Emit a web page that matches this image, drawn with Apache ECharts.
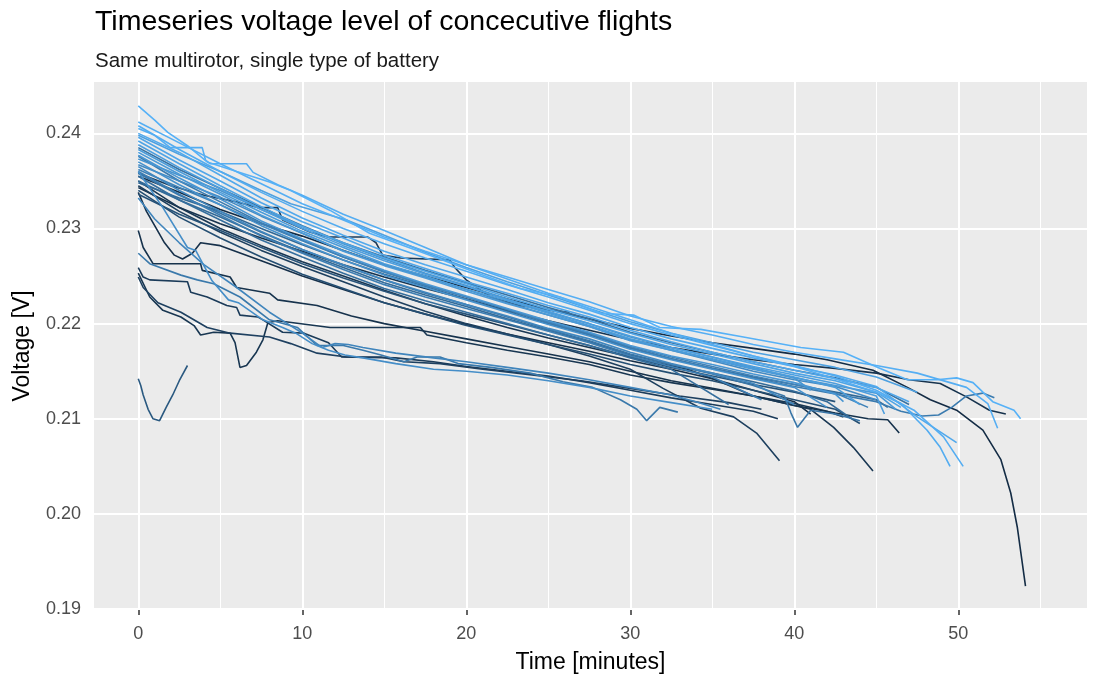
<!DOCTYPE html>
<html>
<head>
<meta charset="utf-8">
<script src="https://cdn.jsdelivr.net/npm/echarts@6/dist/echarts.min.js"></script>
<style>
html,body{margin:0;padding:0;background:#fff;}
#chart{width:1094px;height:675px;}
</style>
</head>
<body>
<div id="chart"></div>
<script>
// ---------- DATA ----------
const titleText = 'Timeseries voltage level of concecutive flights';
const subtitleText = 'Same multirotor, single type of battery';
const xAxisTitle = 'Time [minutes]';
const yAxisTitle = 'Voltage [V]';
const xTicks = [0, 10, 20, 30, 40, 50];
const yTicks = [0.19, 0.20, 0.21, 0.22, 0.23, 0.24];
const xMinorTicks = [5, 15, 25, 35, 45, 55];
const yMinorTicks = [0.195, 0.205, 0.215, 0.225, 0.235, 0.245];

// each flight: [time (min), voltage (V)]
const fD1 = [[0,0.2355],[2.5,0.2338],[5,0.2320],[7.5,0.2305],[10,0.2292],[12.5,0.2277],[15,0.2262],[17.5,0.2250],[20,0.2238],[22.5,0.2226],[25,0.2215],[27.5,0.2205],[30,0.2195],[32.5,0.2187],[35,0.2180],[37.5,0.2174],[40,0.2168],[42,0.2162],[44.8,0.2151],[46.9,0.2133],[48.3,0.2120],[49.9,0.2109],[51.5,0.2088],[52.6,0.2057],[53.2,0.2022],[53.6,0.1986],[54.1,0.1924]];
const fLG7 = [[0,0.2338],[0.5,0.2318],[1,0.2303],[1.6,0.2285],[2.2,0.2272],[2.7,0.2268],[3.3,0.2274],[3.8,0.2285],[5,0.2282],[7.5,0.2266],[10,0.2250],[12.5,0.2236],[15,0.2222],[17.5,0.2210],[20,0.2199],[22.5,0.2189],[25,0.2180],[27.5,0.2171],[30,0.2161],[32.5,0.2152],[35,0.2142],[37.5,0.2130],[40,0.2118],[41,0.2105]];
const fLG2 = [[0,0.2298],[0.3,0.2280],[0.9,0.2263],[3.8,0.2263],[3.9,0.2256],[5.6,0.2249],[6,0.2238],[8,0.2232],[8.5,0.2225],[10.9,0.2219],[13,0.2208],[15,0.2200],[17.5,0.2192],[20,0.2184],[22.5,0.2176],[25,0.2168],[27.5,0.2160],[30,0.2150],[32.5,0.2140],[35,0.2132],[37.5,0.2124],[40,0.2114],[42.5,0.2106],[44.5,0.2100],[45.7,0.2099],[46.4,0.2085]];
const fD2 = [[0,0.2343],[2.5,0.2322],[5,0.2305],[7.5,0.2290],[10,0.2276],[12.5,0.2262],[15,0.2249],[17.5,0.2237],[20,0.2226],[22.5,0.2214],[25,0.2203],[27.5,0.2193],[30,0.2183],[32.5,0.2175],[35,0.2168],[37.5,0.2162],[40,0.2157],[42.5,0.2153],[45,0.2148],[47,0.2141],[48.9,0.2137],[50.5,0.2123],[51.9,0.2109],[52.9,0.2105]];
const fLG4 = [[0,0.2253],[0.7,0.2228],[1.5,0.2214],[2.6,0.2207],[3.4,0.2198],[3.8,0.2188],[4.6,0.2191],[5.6,0.2190],[5.9,0.2180],[6.2,0.2154],[6.6,0.2156],[7.2,0.2170],[7.6,0.2183],[7.9,0.2201],[8.5,0.2203],[11.7,0.2196],[14.8,0.2196],[17.2,0.2196],[17.6,0.2188],[20,0.2180],[22.5,0.2172],[25,0.2165],[27.5,0.2157],[30,0.2146],[32.5,0.2138],[35,0.2131],[37.5,0.2124],[40,0.2116],[42,0.2108],[43,0.2102]];
const fD3 = [[0,0.2350],[2.5,0.2322],[5,0.2300],[7.5,0.2282],[10,0.2265],[12.5,0.2250],[15,0.2235],[17.5,0.2221],[20,0.2208],[22.5,0.2196],[25,0.2185],[27.5,0.2175],[30,0.2165],[33.5,0.2152],[35.5,0.2139],[37.5,0.2124],[39,0.2118],[41,0.2110],[42.4,0.2091],[43.6,0.2070],[44.8,0.2045]];
const fLG3 = [[0,0.2259],[0.3,0.2249],[0.7,0.2246],[3,0.2244],[3.2,0.2233],[4.2,0.2228],[5.4,0.2219],[6,0.2217],[6.2,0.2209],[7.3,0.2207],[7.6,0.2204],[8.8,0.2191],[10.1,0.2190],[11.6,0.2180],[12.4,0.2165],[15.7,0.2164],[18,0.2160],[20,0.2155],[22.5,0.2150],[25,0.2145],[27.5,0.2138],[30,0.2130],[32.5,0.2122],[35,0.2115],[37.5,0.2108],[39,0.2100]];
const fD5 = [[0,0.2358],[2,0.2345],[4,0.2335],[6,0.2328],[7.3,0.2322],[8.5,0.2322],[8.8,0.2309],[10.5,0.2296],[11.6,0.2291],[14,0.2291],[14.5,0.2285],[14.9,0.2272],[16,0.2269],[19,0.2267],[19.3,0.2259],[20,0.2246],[20.9,0.2235],[21.5,0.2228],[23,0.2220],[25.1,0.2214],[26.3,0.2212]];
const fLG5 = [[0,0.2249],[0.3,0.2238],[1.2,0.2222],[2.6,0.2212],[4.2,0.2196],[5.6,0.2190],[8,0.2186],[9.3,0.2179],[10.9,0.2169],[12.7,0.2165],[14.8,0.2165],[16.2,0.2160],[18.4,0.2158],[21,0.2152],[24,0.2146],[27,0.2140],[30,0.2132],[33,0.2124],[36,0.2117],[38,0.2110]];
const fD4 = [[0,0.2345],[2.5,0.2318],[5,0.2296],[7.5,0.2277],[10,0.2260],[12.5,0.2244],[15,0.2228],[17.5,0.2213],[20,0.2200],[22.5,0.2189],[25,0.2178],[27.5,0.2166],[30,0.2152],[32,0.2132],[34.3,0.2111],[36.3,0.2102],[37.7,0.2085],[39.1,0.2056]];
const fD6 = [[0,0.2340],[2.5,0.2312],[5,0.2290],[7.5,0.2270],[10,0.2252],[12.5,0.2237],[15,0.2222],[17.5,0.2210],[20,0.2198],[22.5,0.2188],[25,0.2178],[27.5,0.2168],[30,0.2157],[32.5,0.2148],[35,0.2140],[37.5,0.2130],[40,0.2120],[42.5,0.2110],[44,0.2095]];
const fD7 = [[0,0.2336],[2.5,0.2315],[5,0.2298],[7.5,0.2280],[10,0.2263],[12.5,0.2248],[15,0.2234],[17.5,0.2221],[20,0.2210],[22.5,0.2199],[25,0.2188],[27.5,0.2177],[30,0.2165],[32.5,0.2154],[35,0.2145],[37.5,0.2136],[40,0.2128],[42.5,0.2118]];
const fLG1 = [[0,0.2142],[0.15,0.2135],[0.3,0.2125],[0.6,0.2110],[0.9,0.2100],[1.3,0.2098],[1.7,0.2112],[2.1,0.2125],[2.5,0.2140],[3.0,0.2156]];
const fB24 = [[0,0.2348],[2.5,0.2332],[5,0.2318],[7.5,0.2300],[10,0.2283],[12.5,0.2267],[15,0.2252],[17.5,0.2239],[20,0.2226],[22.5,0.2213],[25,0.2200],[27.5,0.2188],[30,0.2174],[32.5,0.2163],[35,0.2153],[37.5,0.2144],[40,0.2136],[42.5,0.2128],[45,0.2120],[45.7,0.2112]];
const fB23 = [[0,0.2350],[2.5,0.2330],[5,0.2312],[7.5,0.2293],[10,0.2275],[12.5,0.2259],[15,0.2243],[17.5,0.2230],[20,0.2218],[22.5,0.2205],[25,0.2193],[27.5,0.2181],[30,0.2167],[32.5,0.2157],[35,0.2148],[37.5,0.2139],[40,0.2129],[42,0.2118],[43.5,0.2100]];
const fB22 = [[0,0.2355],[2.5,0.2330],[5,0.2309],[7.5,0.2288],[10,0.2270],[12.5,0.2253],[15,0.2237],[17.5,0.2224],[20,0.2212],[22.5,0.2200],[25,0.2188],[27.5,0.2177],[30,0.2164],[32.5,0.2152],[36,0.2115]];
const fB21 = [[0,0.2385],[2.5,0.2362],[5,0.2342],[7.5,0.2322],[10,0.2303],[12.5,0.2285],[15,0.2270],[17.5,0.2256],[20,0.2243],[22.5,0.2230],[25,0.2217],[27.5,0.2205],[30,0.2191],[32.5,0.2180],[35,0.2170],[37.5,0.2160],[40,0.2151],[42.5,0.2143],[45,0.2133],[47,0.2115]];
const fB20 = [[0,0.2358],[2.5,0.2335],[5,0.2316],[7.5,0.2296],[10,0.2278],[12.5,0.2261],[15,0.2246],[17.5,0.2232],[20,0.2220],[22.5,0.2207],[25,0.2194],[27.5,0.2182],[30,0.2168],[32.5,0.2157],[35,0.2147],[37.5,0.2135],[39.4,0.2124],[39.8,0.2106],[40.2,0.2091],[41,0.2109],[42.5,0.2105],[44,0.2098]];
const fLG6 = [[0,0.2274],[0.7,0.2263],[2.6,0.2251],[3.6,0.2246],[4.6,0.2242],[6.2,0.2228],[8,0.2204],[9.7,0.2196],[10.9,0.2177],[12.5,0.2177],[13.7,0.2172],[14.8,0.2167],[16.2,0.2160],[17,0.2165],[18.4,0.2165],[19.5,0.2158],[21.5,0.2154],[23.9,0.2148],[25.9,0.2139],[27.7,0.2133],[29.4,0.2120],[30.4,0.2110],[31,0.2098],[31.8,0.2112],[32.9,0.2107]];
const fB19 = [[0,0.2376],[2.5,0.2350],[5,0.2328],[7.5,0.2306],[10,0.2288],[12.5,0.2270],[15,0.2255],[17.5,0.2241],[20,0.2228],[22.5,0.2215],[25,0.2201],[27.5,0.2189],[30,0.2175],[32.5,0.2163],[35,0.2153],[37.5,0.2143],[40,0.2134],[42.5,0.2126],[45,0.2118],[46.5,0.2108],[47.8,0.2103],[48.8,0.2104],[49.6,0.2112],[50.5,0.2124],[51.5,0.2127],[52.2,0.2122]];
const fB18 = [[0,0.2360],[2.5,0.2336],[5,0.2314],[7.5,0.2292],[10,0.2274],[12.5,0.2257],[15,0.2241],[17.5,0.2228],[20,0.2216],[22.5,0.2204],[25,0.2192],[27.5,0.2180],[30,0.2166],[32.5,0.2155],[35,0.2144],[38,0.2120]];
const fB17 = [[0,0.2362],[2.5,0.2343],[5,0.2325],[7.5,0.2305],[10,0.2287],[12.5,0.2270],[15,0.2254],[17.5,0.2240],[20,0.2228],[22.5,0.2215],[25,0.2202],[27.5,0.2190],[30,0.2176],[32.5,0.2165],[35,0.2155],[37.5,0.2145],[40,0.2136],[42.5,0.2127],[44.5,0.2112]];
const fLG9 = [[0,0.2332],[1,0.2310],[2.5,0.2285],[4,0.2262],[6,0.2238],[8,0.2212],[10,0.2190],[11.2,0.2175],[12,0.2179],[12.8,0.2178],[13.7,0.2175],[15.7,0.2169],[18,0.2164],[20,0.2160],[22.5,0.2154],[25,0.2148],[27.5,0.2141],[30,0.2133],[32.5,0.2125],[34,0.2118],[35.5,0.2110]];
const fB16 = [[0,0.2365],[2.5,0.2340],[5,0.2318],[7.5,0.2297],[10,0.2278],[12.5,0.2262],[15,0.2246],[17.5,0.2233],[20,0.2220],[22.5,0.2208],[25,0.2195],[27.5,0.2184],[30,0.2170],[32.5,0.2158],[35,0.2148],[37.5,0.2137],[40,0.2115]];
const fB15 = [[0,0.2367],[2.5,0.2350],[5,0.2333],[7.5,0.2313],[10,0.2295],[12.5,0.2277],[15,0.2262],[17.5,0.2249],[20,0.2236],[22.5,0.2222],[25,0.2209],[27.5,0.2197],[30,0.2183],[32.5,0.2172],[35,0.2161],[37.5,0.2150],[40,0.2141],[42.5,0.2134],[45,0.2120]];
const fLG8 = [[0,0.2360],[1.5,0.2322],[3,0.2280],[3.5,0.2277],[4.5,0.2245],[5.5,0.2225],[6.1,0.2222],[7.6,0.2204],[8.8,0.2196],[9.6,0.2190],[10.6,0.2179],[11.6,0.2172],[12.6,0.2167],[13.7,0.2164],[15.7,0.2158],[18,0.2152],[20,0.2150],[22.5,0.2146],[25,0.2140],[27.5,0.2133],[30,0.2124],[32.5,0.2117],[35,0.2110]];
const fB14 = [[0,0.2370],[2.5,0.2346],[5,0.2325],[7.5,0.2303],[10,0.2284],[12.5,0.2267],[15,0.2251],[17.5,0.2238],[20,0.2225],[22.5,0.2212],[25,0.2199],[27.5,0.2187],[30,0.2173],[32.5,0.2162],[35,0.2152],[37.5,0.2142],[40,0.2133],[42,0.2112]];
const fB13 = [[0,0.2373],[2.5,0.2356],[5,0.2340],[7.5,0.2320],[10,0.2302],[12.5,0.2284],[15,0.2268],[17.5,0.2253],[20,0.2240],[22.5,0.2226],[25,0.2212],[27.5,0.2200],[30,0.2186],[32.5,0.2175],[35,0.2165],[37.5,0.2154],[40,0.2143],[41,0.2130]];
const fB12 = [[0,0.2377],[2.5,0.2353],[5,0.2331],[7.5,0.2308],[10,0.2289],[12.5,0.2272],[15,0.2256],[17.5,0.2242],[20,0.2229],[22.5,0.2216],[25,0.2203],[27.5,0.2191],[30,0.2177],[32.5,0.2166],[35,0.2157],[37.5,0.2147],[40,0.2138],[42.5,0.2126],[43,0.2118]];
const fB11 = [[0,0.2380],[2.5,0.2357],[5,0.2336],[7.5,0.2314],[10,0.2295],[12.5,0.2276],[15,0.2261],[17.5,0.2248],[20,0.2234],[22.5,0.2221],[25,0.2209],[27.5,0.2197],[30,0.2182],[32.5,0.2172],[35,0.2162],[37.5,0.2152],[40,0.2143],[42.5,0.2135],[45,0.2127],[46.2,0.2110]];
const fB10 = [[0,0.2383],[2.5,0.2360],[5,0.2338],[7.5,0.2317],[10,0.2297],[12.5,0.2280],[15,0.2263],[17.5,0.2250],[20,0.2236],[22.5,0.2224],[25,0.2211],[27.5,0.2198],[30,0.2184],[32.5,0.2173],[35,0.2163],[37.5,0.2153],[40,0.2144],[42.5,0.2133],[44,0.2115]];
const fB9 = [[0,0.2388],[2.5,0.2364],[5,0.2342],[7.5,0.2320],[10,0.2300],[12.5,0.2282],[15,0.2266],[17.5,0.2252],[20,0.2239],[22.5,0.2225],[25,0.2213],[27.5,0.2200],[30,0.2187],[32.5,0.2175],[35,0.2165],[37.5,0.2155],[40,0.2146],[42.5,0.2137],[45,0.2124],[45.5,0.2105]];
const fB8 = [[0,0.2398],[2.5,0.2378],[5,0.2360],[7.5,0.2340],[9.3,0.2326],[12.7,0.2309],[15,0.2293],[17.5,0.2275],[20,0.2259],[22.5,0.2244],[25,0.2230],[27.5,0.2216],[30,0.2202],[32.5,0.2190],[35,0.2180],[37.5,0.2170],[40,0.2162],[42.5,0.2154],[45,0.2144],[47.5,0.2128]];
const fB7 = [[0,0.2392],[2.5,0.2368],[5,0.2345],[7.5,0.2323],[10,0.2302],[12.5,0.2285],[15,0.2269],[17.5,0.2255],[20,0.2242],[22.5,0.2228],[25,0.2215],[27.5,0.2203],[30,0.2190],[32.5,0.2178],[35,0.2168],[37.5,0.2158],[40,0.2148],[42.5,0.2140],[45,0.2128],[46.5,0.2112]];
const fB6 = [[0,0.2396],[2.5,0.2372],[5,0.2350],[7.5,0.2327],[10,0.2307],[12.5,0.2290],[15,0.2272],[17.5,0.2258],[20,0.2244],[22.5,0.2232],[25,0.2219],[27.5,0.2207],[30,0.2193],[32.5,0.2181],[35,0.2170],[37.5,0.2160],[40,0.2151],[42.5,0.2142],[45,0.2133],[47,0.2118]];
const fB5 = [[0,0.2400],[2.5,0.2380],[5,0.2356],[7.5,0.2332],[10,0.2311],[12.5,0.2293],[15,0.2276],[17.5,0.2262],[20,0.2249],[22.5,0.2236],[25,0.2222],[27.5,0.2210],[30,0.2196],[32.5,0.2184],[35,0.2174],[37.5,0.2164],[40,0.2155],[42.5,0.2146],[45,0.2134],[47.5,0.2102],[49.9,0.2075]];
const fB4 = [[0,0.2408],[2.5,0.2383],[5,0.2360],[7.5,0.2338],[10,0.2318],[12.5,0.2300],[15,0.2284],[17.5,0.2269],[20,0.2255],[22.5,0.2241],[25,0.2228],[27.5,0.2214],[30,0.2200],[32.5,0.2188],[35,0.2177],[37.5,0.2166],[40,0.2156],[42.5,0.2145],[45,0.2130],[46.5,0.2116],[48.1,0.2088],[48.9,0.2070],[49.5,0.2050]];
const fB3 = [[0,0.2405],[1,0.2398],[1.95,0.2385],[3.9,0.2385],[4.1,0.2372],[4.4,0.2368],[6.6,0.2368],[7,0.2359],[8.5,0.2346],[10,0.2335],[12.5,0.2315],[15,0.2298],[17.5,0.2280],[20,0.2262],[22.5,0.2247],[25,0.2232],[27.5,0.2218],[30,0.2204],[32.5,0.2190],[35,0.2178],[37.5,0.2166],[40,0.2155],[42.5,0.2142],[45,0.2128],[46.5,0.2116],[47.3,0.2109],[49.1,0.2081],[50.3,0.2050]];
const fB2 = [[0,0.2412],[2.5,0.2390],[5,0.2368],[7.5,0.2347],[10,0.2326],[12.5,0.2309],[15,0.2291],[17.5,0.2276],[20,0.2262],[22.5,0.2249],[25,0.2236],[27.5,0.2223],[30,0.2208],[32.5,0.2197],[35,0.2188],[37.5,0.2178],[40,0.2170],[42.5,0.2163],[45,0.2156],[47.5,0.2148],[50.5,0.2133],[51.8,0.2116],[52.4,0.2090]];
const fB1 = [[0,0.2429],[1,0.2414],[1.8,0.2401],[3,0.2387],[4.2,0.2370],[6,0.2360],[8,0.2349],[9.3,0.2340],[11.7,0.2319],[14.1,0.2295],[17,0.2277],[20.7,0.2253],[23.3,0.2237],[25.7,0.2228],[28.2,0.2211],[30.2,0.2209],[31.8,0.2196],[34.3,0.2194],[36.9,0.2186],[40.4,0.2175],[43,0.2170],[45.1,0.2154],[46.9,0.2141],[48.7,0.2141],[49.9,0.2143],[50.9,0.2138],[52.1,0.2118],[53.4,0.2109],[53.8,0.2100]];

// flights in drawing order, with the value mapped to colour (0 = earliest/darkest, 1 = latest/lightest)
const flightSeries = [fD1, fLG7, fLG2, fD2, fLG4, fD3, fLG3, fD5, fLG5, fD4, fD6, fD7, fLG1, fB24, fB23, fB22, fB21, fB20, fLG6, fB19, fB18, fB17, fLG9, fB16, fB15, fLG8, fB14, fB13, fB12, fB11, fB10, fB9, fB8, fB7, fB6, fB5, fB4, fB3, fB2, fB1];
const flightShade  = [0.01, 0.04, 0.05, 0.06, 0.08, 0.09, 0.12, 0.12, 0.16, 0.15, 0.26, 0.30, 0.34, 0.45, 0.48, 0.50, 0.53, 0.56, 0.58, 0.60, 0.62, 0.65, 0.67, 0.69, 0.71, 0.74, 0.76, 0.78, 0.80, 0.82, 0.84, 0.86, 0.88, 0.90, 0.92, 0.94, 0.96, 0.97, 0.98, 1.00];

// ---------- CHART ----------
const FONT = "'Liberation Sans', Arial, sans-serif";
const LOW = [0x13, 0x2B, 0x43], HIGH = [0x56, 0xB1, 0xF7];
function shadeColor(s) {
  const c = LOW.map((l, i) => Math.round(l + (HIGH[i] - l) * s));
  return 'rgb(' + c.join(',') + ')';
}

const gridLines = [];
yTicks.forEach(v => gridLines.push({ yAxis: v, lineStyle: { width: 2 } }));
yMinorTicks.forEach(v => gridLines.push({ yAxis: v, lineStyle: { width: 1 } }));
xTicks.forEach(v => gridLines.push({ xAxis: v, lineStyle: { width: 2 } }));
xMinorTicks.forEach(v => gridLines.push({ xAxis: v, lineStyle: { width: 1 } }));

const series = [{
  type: 'line', data: [], silent: true, z: 1,
  markLine: {
    silent: true, z: 1, symbol: ['none', 'none'], animation: false,
    label: { show: false },
    lineStyle: { color: '#FFFFFF', type: 'solid', width: 1 },
    emphasis: { disabled: true },
    data: gridLines
  }
}];
flightSeries.forEach((d, i) => {
  series.push({
    type: 'line', data: d, showSymbol: false, symbol: 'none', z: 3,
    lineStyle: { width: 1.6, color: shadeColor(flightShade[i]) },
    emphasis: { disabled: true }, silent: true
  });
});

const chart = echarts.init(document.getElementById('chart'), null, { renderer: 'canvas', width: 1094, height: 675 });
chart.setOption({
  animation: false,
  backgroundColor: '#FFFFFF',
  title: [
    { text: titleText, left: 90, top: 3, textStyle: { fontFamily: FONT, fontSize: 28.5, fontWeight: 'normal', color: '#000000' } },
    { text: subtitleText, left: 90, top: 46, textStyle: { fontFamily: FONT, fontSize: 20.5, fontWeight: 'normal', color: '#1A1A1A' } }
  ],
  grid: { left: 94, width: 993, top: 82, height: 528, show: true, backgroundColor: '#EBEBEB', borderWidth: 0, containLabel: false, outerBoundsMode: 'none' },
  xAxis: {
    type: 'value', min: -2.7, max: 57.85,
    name: xAxisTitle, nameLocation: 'middle', nameGap: 41,
    nameTextStyle: { fontFamily: FONT, fontSize: 23, color: '#000000' },
    axisLine: { show: false },
    axisTick: { show: true, length: 5, lineStyle: { color: '#333333', width: 1.5 }, customValues: xTicks },
    axisLabel: { fontFamily: FONT, fontSize: 18, color: '#4D4D4D', margin: 15, customValues: xTicks, formatter: v => String(v) },
    splitLine: { show: false }
  },
  yAxis: {
    type: 'value', min: 0.1899, max: 0.2454,
    name: yAxisTitle, nameLocation: 'middle', nameGap: 60,
    nameTextStyle: { fontFamily: FONT, fontSize: 23, color: '#000000' },
    axisLine: { show: false },
    axisTick: { show: true, length: 5, lineStyle: { color: '#333333', width: 1.5 }, customValues: yTicks },
    axisLabel: { fontFamily: FONT, fontSize: 18, color: '#4D4D4D', margin: 13, customValues: yTicks, formatter: v => v.toFixed(2) },
    splitLine: { show: false }
  },
  series: series
});
</script>
</body>
</html>
